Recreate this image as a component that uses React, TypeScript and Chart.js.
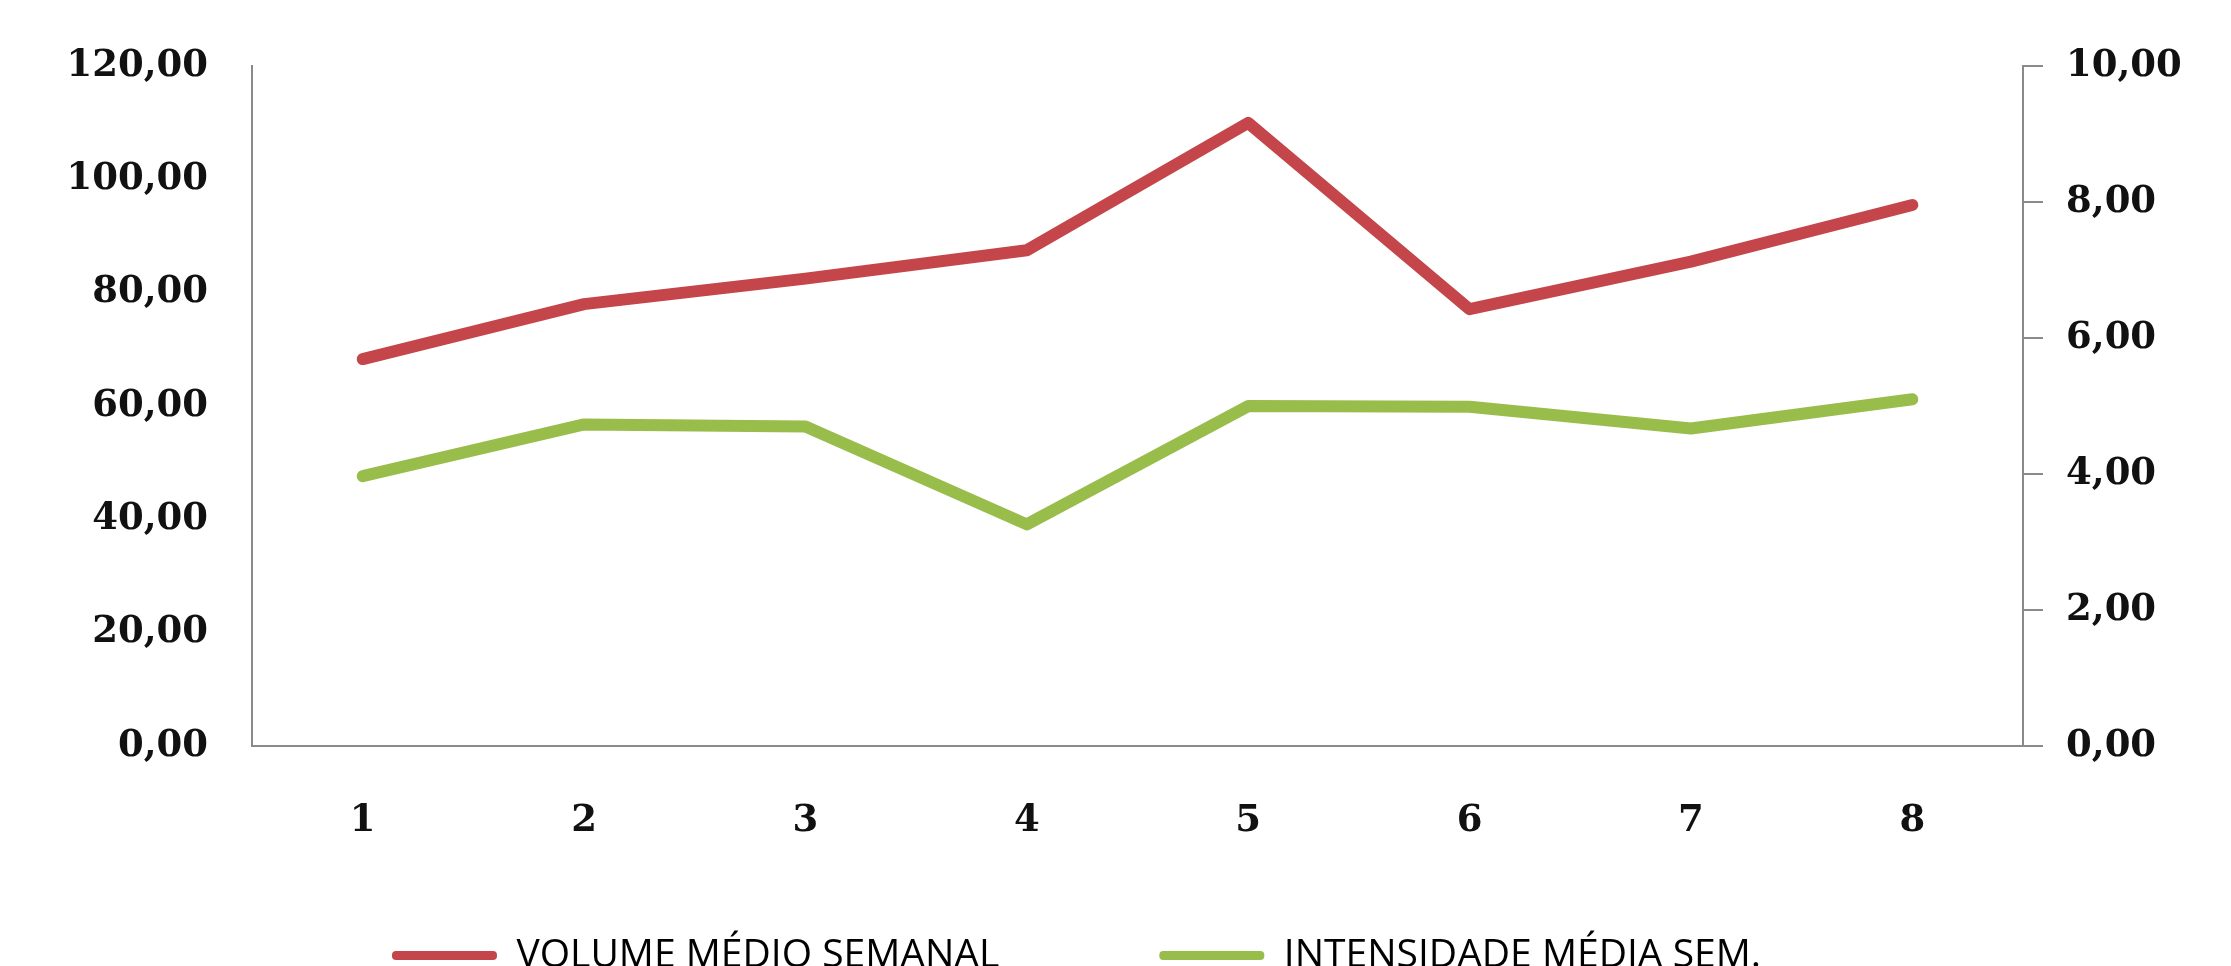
import React, { useEffect, useRef } from "react";
import { Chart, registerables } from "chart.js";

Chart.register(...registerables);

const weeks = ["1", "2", "3", "4", "5", "6", "7", "8"];
const volumeMedio = [68.3, 78.0, 82.5, 87.5, 110.0, 77.1, 85.5, 95.5];
const intensidadeMedia = [3.97, 4.73, 4.7, 3.26, 5.0, 4.99, 4.67, 5.1];
const seriesNames = ["VOLUME MÉDIO SEMANAL", "INTENSIDADE MÉDIA SEM."];
const seriesColors = ["#C4464B", "#98BD4B"];

const W = 2231;
const H = 985;
const LEG_FONT = 39;
const LEG_PAD = 160;
const LEG_SHIFT = -39;

const fmt = (v: number) => v.toFixed(2).replace(".", ",");
const tickFont = { family: "'DejaVu Serif', serif", size: 37, weight: "bold" as const };
const axisGray = "#8A8A8A";

const layoutTweak = {
  id: "layoutTweak",
  afterLayout(chart: any) {
    const lg = chart.legend;
    if (lg) {
      lg.left += LEG_SHIFT;
      lg.right += LEG_SHIFT;
    }
    const x = chart.scales.x;
    if (x) x.bottom = chart.height;
  },
};

export default function App() {
  const ref = useRef<HTMLCanvasElement | null>(null);
  useEffect(() => {
    if (!ref.current) return;
    const mk = (i: number, data: number[], axis: string) => ({
      label: seriesNames[i],
      data,
      borderColor: seriesColors[i],
      backgroundColor: seriesColors[i],
      borderWidth: 12,
      pointRadius: 0,
      tension: 0,
      borderCapStyle: "round" as const,
      borderJoinStyle: "round" as const,
      yAxisID: axis,
    });
    const chart = new Chart(ref.current, {
      type: "line",
      data: {
        labels: weeks,
        datasets: [mk(0, volumeMedio, "y"), mk(1, intensidadeMedia, "y1")],
      },
      plugins: [layoutTweak],
      options: {
        responsive: false,
        animation: false,
        devicePixelRatio: 1,
        layout: { padding: { top: 63, left: 0, right: 0, bottom: 0 } },
        plugins: {
          tooltip: { enabled: false },
          legend: {
            position: "bottom",
            labels: {
              boxWidth: 105,
              boxHeight: 9,
              padding: LEG_PAD,
              color: "#000",
              useBorderRadius: true,
              borderRadius: 4,
              font: { family: "'Open Sans', sans-serif", size: LEG_FONT },
              generateLabels: (c: any) =>
                c.data.datasets.map((d: any, i: number) => ({
                  text: d.label,
                  fillStyle: d.borderColor,
                  strokeStyle: d.borderColor,
                  lineWidth: 0,
                  borderRadius: 4,
                  datasetIndex: i,
                  hidden: false,
                })),
            },
          },
        },
        scales: {
          x: {
            type: "category",
            offset: true,
            grid: { display: false, drawTicks: false },
            border: { display: true, color: axisGray, width: 2 },
            ticks: { color: "#111", font: tickFont, padding: 53, maxRotation: 0, autoSkip: false },
            afterFit: (s: any) => {
              s.height = 30;
            },
          },
          y: {
            position: "left",
            min: 0,
            max: 120,
            grid: { display: false, drawTicks: false },
            border: { display: true, color: axisGray, width: 2 },
            ticks: { stepSize: 20, color: "#111", font: tickFont, padding: 44, callback: (v: any) => fmt(Number(v)) },
            afterFit: (s: any) => {
              s.width = 252;
            },
          },
          y1: {
            position: "right",
            min: 0,
            max: 10,
            grid: { display: true, drawOnChartArea: false, drawTicks: true, tickLength: 20, color: axisGray, lineWidth: 2 },
            border: { display: true, color: axisGray, width: 2 },
            ticks: { stepSize: 2, color: "#111", font: tickFont, padding: 23, callback: (v: any) => fmt(Number(v)) },
            afterFit: (s: any) => {
              s.width = W - 2023;
            },
          },
        },
      },
    });
    return () => chart.destroy();
  }, []);
  return (
    <div style={{ position: "fixed", left: 0, top: 0, width: W, height: 966, overflow: "hidden", background: "#fff" }}>
      <canvas ref={ref} width={W} height={H} style={{ display: "block", width: W, height: H }} />
    </div>
  );
}
